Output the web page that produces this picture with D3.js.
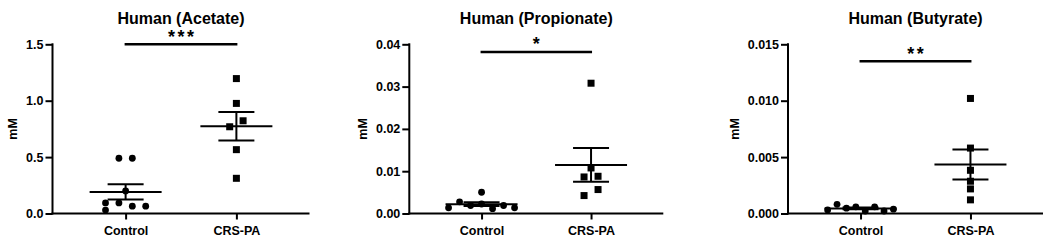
<!DOCTYPE html>
<html>
<head>
<meta charset="utf-8">
<script src="https://cdn.jsdelivr.net/npm/d3@7"></script>
<style>
  body { margin: 0; background: #fff; }
  svg { display: block; }
  text { font-family: "Liberation Sans", Arial, sans-serif; font-weight: bold; fill: #000; }
</style>
</head>
<body>
<div id="main"></div>
<script>
// groups and values (mM)
const groups = ['Control', 'CRS-PA'];
const titles = ['Human (Acetate)', 'Human (Propionate)', 'Human (Butyrate)'];
const stars = ['***', '*', '**'];

const acetateControl = [0.49, 0.49, 0.20, 0.094, 0.094, 0.065, 0.065, 0.03];
const acetateCRS = [1.196, 0.976, 0.822, 0.769, 0.566, 0.312];
const propionateControl = [0.00502, 0.00276, 0.00134, 0.00189, 0.00225, 0.00115, 0.00189, 0.00134];
const propionateCRS = [0.0308, 0.01077, 0.00864, 0.0088, 0.00566, 0.00424];
const butyrateControl = [0.00032, 0.00081, 0.00047, 0.00059, 0.00022, 0.00059, 0.00022, 0.00038];
const butyrateCRS = [0.0102, 0.0058, 0.00383, 0.00286, 0.00218, 0.00121];

// column-scatter slot of each point (GraphPad style spreading)
const acetateControlSlots = [-1, 1, 0, -3, -1, 1, 3, -3];
const acetateCRSSlots = [0, 0, 1, -1, 0, 0];
const propionateControlSlots = [0, -2, -3, -1, 0, 1, 2, 3];
const propionateCRSSlots = [0, 0, -1, 1, 1, -1];
const butyrateControlSlots = [-7, -5, -3, -1, 1, 3, 5, 7];
const butyrateCRSSlots = [0, 0, 0, 0, 0, 0];

const acetateTicks = [0, 0.5, 1.0, 1.5];
const propionateTicks = [0, 0.01, 0.02, 0.03, 0.04];
const butyrateTicks = [0, 0.005, 0.010, 0.015];

const sigLevels = [1.5, 0.0382, 0.0135];

const panels = [
  { title: titles[0], ctrl: acetateControl, crs: acetateCRS, ctrlSlots: acetateControlSlots, crsSlots: acetateCRSSlots,
    ticks: acetateTicks, fmt: '.1f', star: stars[0], sig: sigLevels[0], left: 52.5, w: 257, ctrlStep: 6.7, crsStep: 6.7 },
  { title: titles[1], ctrl: propionateControl, crs: propionateCRS, ctrlSlots: propionateControlSlots, crsSlots: propionateCRSSlots,
    ticks: propionateTicks, fmt: '.2f', star: stars[1], sig: sigLevels[1], left: 409.3, w: 254, ctrlStep: 11, crsStep: 7 },
  { title: titles[2], ctrl: butyrateControl, crs: butyrateCRS, ctrlSlots: butyrateControlSlots, crsSlots: butyrateCRSSlots,
    ticks: butyrateTicks, fmt: '.3f', star: stars[2], sig: sigLevels[2], left: 788, w: 255, ctrlStep: 4.7, crsStep: 4.7 },
];

const width = 1055;
const height = 245;
const plotTop = 44.3;
const plotBottom = 213.5;

const svg = d3.select('#main').append('svg').attr('width', width).attr('height', height);
svg.append('rect').attr('width', width).attr('height', height).attr('fill', '#fff');

panels.forEach((p) => {
  const g = svg.append('g').attr('transform', `translate(${p.left},0)`);

  const x = d3.scalePoint().domain(groups).range([0, p.w]).padding(0.66);
  const y = d3.scaleLinear().domain([0, d3.max(p.ticks)]).range([plotBottom, plotTop]);

  // y axis
  const yAxis = g.append('g')
    .call(d3.axisLeft(y).tickValues(p.ticks).tickFormat(d3.format(p.fmt)).tickSize(7).tickSizeOuter(0).tickPadding(2));
  yAxis.selectAll('path, line').attr('stroke', '#000').attr('stroke-width', 2);
  yAxis.selectAll('text').style('font-size', '12.5px');
  yAxis.select('.domain').attr('d', `M0,${plotTop - 1}V${plotBottom + 1}`);

  // x axis
  const xAxis = g.append('g').attr('transform', `translate(0,${plotBottom})`)
    .call(d3.axisBottom(x).tickSize(6).tickSizeOuter(0).tickPadding(6.5));
  xAxis.selectAll('path, line').attr('stroke', '#000').attr('stroke-width', 2);
  xAxis.selectAll('text').style('font-size', '12.5px');
  xAxis.select('.domain').attr('d', `M-1,0H${p.w}`);

  // y label
  const bb = yAxis.node().getBBox();
  g.append('text')
    .attr('transform', `translate(${bb.x - 13.5},${(plotTop + plotBottom) / 2}) rotate(-90)`)
    .attr('text-anchor', 'middle')
    .attr('dy', '0.35em')
    .style('font-size', '12.5px')
    .text('mM');

  // title
  g.append('text')
    .attr('x', p.w / 2)
    .attr('y', 23.5)
    .attr('text-anchor', 'middle')
    .style('font-size', '16px')
    .text(p.title);

  // significance bar
  const ys = y(p.sig);
  g.append('line')
    .attr('x1', x(groups[0]) - 1).attr('x2', x(groups[1]) + 1)
    .attr('y1', ys).attr('y2', ys)
    .attr('stroke', '#000').attr('stroke-width', 2.5);
  g.append('text')
    .attr('x', (x(groups[0]) + x(groups[1])) / 2 + 1.25)
    .attr('y', ys - 1.5)
    .attr('text-anchor', 'middle')
    .style('font-size', '18px')
    .style('letter-spacing', '2.5px')
    .text(p.star);

  // mean +/- SEM
  [[groups[0], p.ctrl], [groups[1], p.crs]].forEach(([name, vals]) => {
    const m = d3.mean(vals);
    const sem = d3.deviation(vals) / Math.sqrt(vals.length);
    const cx = x(name);
    const eb = g.append('g').attr('stroke', '#000').attr('stroke-width', 2);
    eb.append('line').attr('x1', cx - 36).attr('x2', cx + 36).attr('y1', y(m)).attr('y2', y(m));
    eb.append('line').attr('x1', cx - 18).attr('x2', cx + 18).attr('y1', y(m + sem)).attr('y2', y(m + sem));
    eb.append('line').attr('x1', cx - 18).attr('x2', cx + 18).attr('y1', y(m - sem)).attr('y2', y(m - sem));
    eb.append('line').attr('x1', cx).attr('x2', cx).attr('y1', y(m + sem)).attr('y2', y(m - sem));
  });

  // points
  g.selectAll('circle.pt')
    .data(p.ctrl.map((v, i) => ({ v, s: p.ctrlSlots[i] })))
    .enter()
    .append('circle')
    .attr('class', 'pt')
    .attr('cx', (d) => x(groups[0]) + d.s * p.ctrlStep)
    .attr('cy', (d) => y(d.v))
    .attr('r', 3.4)
    .attr('fill', '#000');

  const sq = 7;
  g.selectAll('rect.pt')
    .data(p.crs.map((v, i) => ({ v, s: p.crsSlots[i] })))
    .enter()
    .append('rect')
    .attr('class', 'pt')
    .attr('x', (d) => x(groups[1]) + d.s * p.crsStep - sq / 2)
    .attr('y', (d) => y(d.v) - sq / 2)
    .attr('width', sq)
    .attr('height', sq)
    .attr('fill', '#000');
});
</script>
</body>
</html>
